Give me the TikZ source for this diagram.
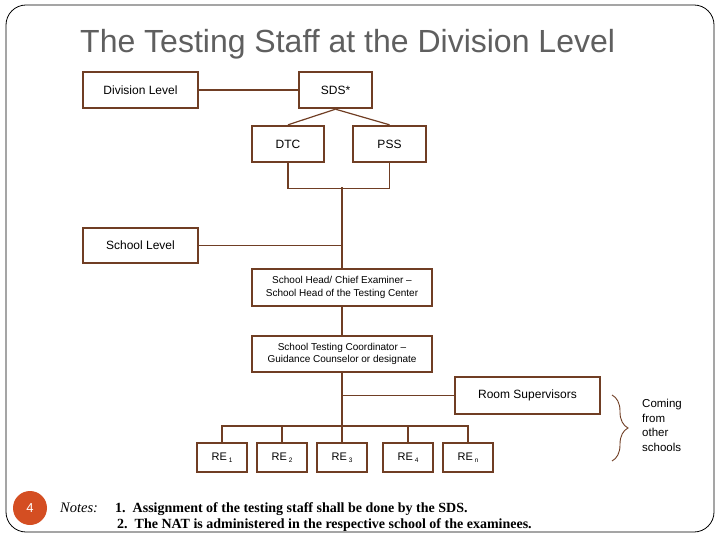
\documentclass[tikz,border=0pt]{standalone}
\usepackage{fontspec}
\setmainfont{Liberation Serif}
\newfontfamily\boxfont{Liberation Sans}
\usetikzlibrary{positioning,decorations.pathreplacing}
\definecolor{boxbrown}{RGB}{112,62,36}
\definecolor{titlegray}{RGB}{95,95,95}
\definecolor{pageorange}{RGB}{212,78,34}
\newcommand{\resub}[1]{\,{\fontsize{6.5}{7}\selectfont\raisebox{-2.5pt}{#1}}}

\begin{document}
\begin{tikzpicture}[
    x=1pt, y=-1pt,
    staff/.style={
      draw=boxbrown, line width=2.4pt,
      font=\boxfont\fontsize{12}{14}\selectfont,
      minimum height=36pt, inner sep=2pt
    },
    twoline/.style={font=\boxfont\fontsize{10}{12.5}\selectfont, align=center},
    re/.style={staff, font=\boxfont\fontsize{11}{13}\selectfont, minimum width=50pt, minimum height=29pt},
    link/.style={draw=boxbrown, line width=1.2pt},
    side text/.style={font=\boxfont\fontsize{11.5}{14.5}\selectfont, align=left, inner sep=0pt}
  ]
  \useasboundingbox (0,0) rectangle (720,540);

  % Frame and title
  \draw[line width=0.8pt, rounded corners=20pt] (6,5) rectangle (714,532);
  \node[anchor=base west, inner sep=0pt, text=titlegray,
        font=\boxfont\fontsize{32}{36}\selectfont] (title) at (80,53)
        {The Testing Staff at the Division Level};

  % Division level
  \node[staff, minimum width=115pt] (divlvl) at (140.5,90) {Division Level};
  \node[staff, minimum width=73pt] (sds) at (335.5,90) {SDS*};
  \node[staff, minimum width=72pt] (dtc) at (288,144) {DTC};
  \node[staff, minimum width=73pt] (pss) at (389.5,144) {PSS};

  % School level
  \node[staff, minimum width=115pt, minimum height=35pt] (schlvl) at (140.5,245.5) {School Level};
  \node[staff, twoline, minimum width=180pt, minimum height=37pt] (head) at (342,287.5)
    {School Head/ Chief Examiner –\\School Head of the Testing Center};
  \node[staff, twoline, minimum width=180pt] (coord) at (342,354)
    {School Testing Coordinator –\\Guidance Counselor or designate};
  \node[staff, minimum width=145pt, minimum height=37pt] (room) at (527.5,395.5) {Room Supervisors};

  % Room examiners
  \foreach \i/\x/\s in {1/222/1, 2/282/2, 3/342/3, 4/408/4, 5/468/n}
    \node[re] (re\i) at (\x,457.5) {RE\resub{\s}};

  % Connectors
  \draw[link] (divlvl) -- (sds);
  \draw[link] (sds.south) -- (dtc.north);
  \draw[link] (sds.south) -- (pss.north);
  \draw[link] (dtc.south) -- ++(0,25) -| (pss.south);
  \coordinate (jdiv) at (342,187);
  \draw[link] (jdiv) -- (head.north);
  \draw[link] (schlvl) -- (schlvl -| jdiv);
  \draw[link] (head) -- (coord);
  \coordinate (jre) at (342,426);
  \draw[link] (coord.south) -- (jre);
  \draw[link] (room) -- (room -| jre);
  \draw[link] (re1.north) |- (jre) -| (re5.north);
  \foreach \i in {2,3,4}
    \draw[link] (re\i.north) -- (re\i.north |- jre);

  % Brace for supervisors from other schools
  \coordinate (bracetop) at (612,395);
  \coordinate (bracebot) at (612,461);
  \draw[link, line width=0.9pt, decorate, decoration={brace, amplitude=16pt}] (bracetop) -- (bracebot);
  \node[side text, anchor=north west] (others) at (642,399) {Coming\\from\\other\\schools};

  % Notes
  \node[circle, fill=pageorange, minimum size=34pt, inner sep=0pt, text=white,
        font=\boxfont\fontsize{13}{13}\selectfont] (pagenum) at (30,508) {4};
  \node[anchor=base west, inner sep=0pt, font=\fontsize{14.5}{16}\selectfont\itshape] (notes) at (60,512) {Notes:};
  \node[anchor=base west, inner sep=0pt, font=\fontsize{14}{16}\selectfont\bfseries] (note1) at (115,512)
    {1.\ \ Assignment of the testing staff shall be done by the SDS.};
  \node[anchor=base west, inner sep=0pt, font=\fontsize{14}{16}\selectfont\bfseries] (note2) at (117,528)
    {2.\ \ The NAT is administered in the respective school of the examinees.};
\end{tikzpicture}
\end{document}
